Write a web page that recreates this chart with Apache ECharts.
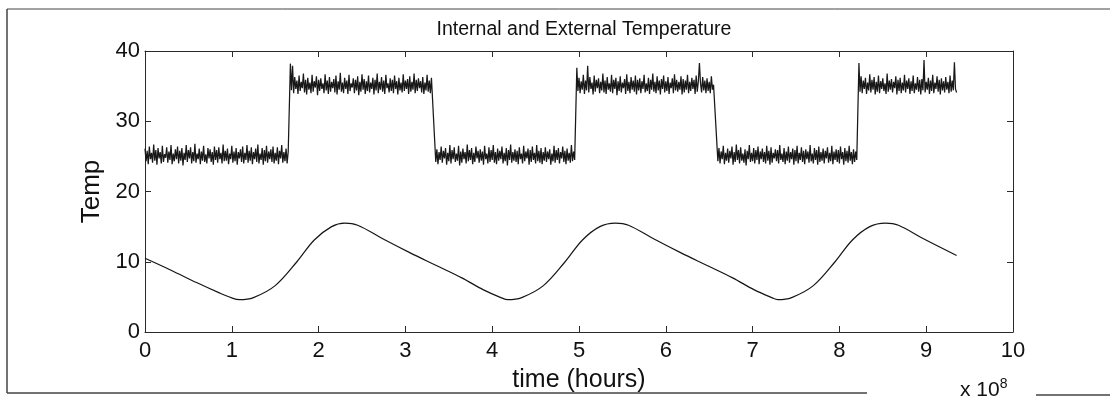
<!DOCTYPE html>
<html>
<head>
<meta charset="utf-8">
<script src="https://cdn.jsdelivr.net/npm/echarts@6/dist/echarts.min.js"></script>
<style>
html,body{margin:0;padding:0;background:#fff;}
#chart{width:1117px;height:400px;}
</style>
</head>
<body>
<div id="chart"></div>
<script>
// ---- data (time in units of 1e8 hours) ----
const xTicks = [0,1,2,3,4,5,6,7,8,9,10];
const yTicks = [0,10,20,30,40];

// external temperature: [time, value]
const extTime = [0,0.3,0.6,0.85,1.0,1.09,1.25,1.5,1.75,1.95,2.15,2.3,2.45,2.75,3.05,3.35,3.65,3.9,4.1,4.18,4.34,4.59,4.84,5.04,5.24,5.42,5.57,5.87,6.17,6.47,6.77,7.02,7.22,7.29,7.45,7.7,7.95,8.15,8.35,8.53,8.68,8.98,9.35];
const extTemp = [10.5,8.8,7.0,5.6,4.85,4.6,4.9,6.6,10.0,13.1,15.0,15.5,15.2,13.2,11.3,9.5,7.7,6.0,4.9,4.6,4.9,6.6,10.0,13.1,15.0,15.5,15.2,13.2,11.3,9.5,7.7,6.0,4.9,4.6,4.9,6.6,10.0,13.1,15.0,15.5,15.2,13.2,10.9];

// internal temperature: evenly sampled segments between start and end times
const intSegStart = [0, 1.675, 3.35, 4.975, 6.6, 8.225];
const intSegEnd   = [1.65, 3.3, 4.95, 6.55, 8.2, 9.35];
const intLow1 = [26.1,24.3,25.8,23.9,26.4,24.6,25.5,24.1,26.7,24.4,25.9,23.8,26.2,24.7,25.6,24.0,26.5,24.2,25.3,24.8,
26.3,24.1,25.7,24.5,26.6,23.9,25.4,24.3,26.0,24.6,26.4,24.0,25.8,24.4,26.2,23.7,25.5,24.5,26.6,24.2,
25.9,24.7,26.3,24.0,25.6,24.3,26.8,24.1,25.4,24.6,26.1,23.9,25.7,24.4,26.5,24.2,25.3,24.0,26.2,24.7,
26.0,24.2,25.6,23.8,26.4,24.5,25.9,24.1,26.3,24.6,25.5,24.0,26.7,24.3,25.8,24.4,26.1,23.9,25.4,24.6,
26.5,24.1,25.7,24.3,26.2,23.8,25.6,24.7,26.0,24.2,26.4,24.0,25.5,24.5,26.6,24.1,25.8,24.4,26.3,23.9,
25.6,24.6,26.1,24.2,26.7,24.0,25.4,24.5,26.2,23.8,25.9,24.3,26.5,24.1,25.7,24.6,26.0,24.2,26.4,24.0,
25.5,24.4,26.3,23.9,25.8,24.7,26.6,24.1,25.6,24.3,26.1,24.0,25.7];
const intHigh1 = [38.2,34.4,37.9,34.0,36.3,34.6,35.8,33.9,36.5,34.3,35.6,34.7,36.8,34.1,35.9,33.8,36.2,34.5,35.5,34.0,
36.6,34.2,35.7,34.8,36.4,33.7,35.9,34.3,36.1,34.6,35.4,34.0,36.7,34.4,35.8,33.9,36.3,34.2,35.6,34.7,
36.0,34.1,36.5,33.8,35.7,34.5,36.9,34.2,35.5,34.0,36.2,34.6,35.8,33.9,36.6,34.3,35.4,34.8,36.1,34.0,
35.9,34.4,36.4,33.7,35.6,34.2,36.7,34.5,36.0,33.9,35.7,34.3,36.5,34.1,35.5,34.6,36.2,33.8,35.9,34.4,
36.8,34.0,35.6,34.5,36.3,34.2,35.8,33.9,36.6,34.7,35.4,34.1,36.1,34.3,35.9,34.0,36.5,34.6,35.7,33.8,
36.2,34.4,35.5,34.1,36.7,34.3,35.8,34.6,36.0,33.9,36.4,34.2,35.6,34.5,36.8,34.0,35.9,34.3,36.1,34.7,
35.7,34.1,36.3,33.9,35.5,34.4,36.6,34.2,35.8,34.0,36.2];
const intLow2 = [24.2,26.0,23.9,25.6,24.5,26.4,24.1,25.8,24.7,26.2,23.8,25.5,24.3,26.6,24.0,25.9,24.6,26.3,24.2,25.4,
24.4,26.5,23.7,25.7,24.1,26.1,24.6,25.6,24.0,26.7,24.3,25.9,24.5,26.2,23.9,25.5,24.2,26.4,24.7,25.8,
24.1,26.0,24.4,25.7,23.8,26.5,24.6,25.4,24.0,26.3,24.2,25.9,24.5,26.6,24.1,25.6,23.9,26.1,24.4,25.8,
24.6,26.4,24.0,25.5,24.3,26.2,23.7,25.9,24.5,26.7,24.1,25.6,24.4,26.0,24.2,25.8,23.9,26.3,24.6,25.4,
24.0,26.5,24.3,25.7,24.7,26.1,23.8,25.9,24.2,26.4,24.5,25.5,24.0,26.6,24.3,25.8,24.1,26.2,23.9,25.6,
24.4,26.3,24.2,25.7,24.6,26.0,23.8,25.4,24.3,26.5,24.1,25.9,24.5,26.2,24.0,25.6,24.7,26.4,24.2,25.8,
23.9,26.1,24.4,25.5,24.1,26.6,24.3,25.7,24.5];
const intHigh2 = [37.6,34.3,36.2,34.0,35.7,34.5,36.6,33.9,35.8,34.4,37.9,34.1,36.3,34.6,35.5,33.8,36.5,34.2,35.9,34.7,
36.1,34.0,35.6,34.4,36.8,34.1,35.8,33.9,36.3,34.5,35.4,34.2,36.6,34.0,35.9,34.6,36.2,33.7,35.7,34.3,
36.4,34.1,35.5,34.7,36.0,33.9,36.7,34.3,35.6,34.0,36.3,34.5,35.8,34.2,36.5,33.8,35.9,34.4,36.1,34.0,
35.7,34.6,36.6,34.1,35.4,34.3,36.2,33.9,35.9,34.5,36.8,34.2,35.6,34.0,36.4,34.4,35.8,33.8,36.0,34.6,
36.5,34.1,35.7,34.3,36.3,33.9,35.5,34.7,36.1,34.0,36.7,34.4,35.9,34.2,35.6,34.5,36.4,33.8,36.0,34.1,
35.8,34.5,36.6,34.0,35.6,34.3,36.2,34.6,35.9,33.9,36.5,34.2,35.7,38.3,35.4,34.1,36.3,34.4,35.8,34.0,
36.1,34.3,35.6,34.0,36.4,34.5,35.2];
const intLow3 = [24.3,26.2,24.0,25.7,24.6,26.5,23.9,25.5,24.4,26.1,24.1,25.8,24.7,26.4,23.8,25.6,24.2,26.7,24.5,25.9,
24.0,26.3,24.4,25.4,24.1,26.0,23.7,25.8,24.6,26.6,24.2,25.5,24.3,26.2,24.0,25.9,24.5,26.4,23.9,25.7,
24.6,26.1,24.2,25.6,24.0,26.5,24.4,25.8,23.8,26.3,24.1,25.5,24.7,26.0,24.3,25.9,24.0,26.6,24.5,25.4,
24.2,26.2,23.9,25.7,24.4,26.4,24.1,25.6,24.6,26.1,23.8,25.9,24.3,26.5,24.0,25.5,24.5,26.3,24.2,25.8,
23.9,26.0,24.6,25.7,24.1,26.6,24.3,25.4,24.0,26.2,24.5,25.9,23.8,26.4,24.2,25.6,24.4,26.1,24.0,25.8,
24.7,26.3,24.1,25.5,24.3,26.5,23.9,25.7,24.5,26.0,24.2,25.9,24.0,26.4,24.6,25.6,23.8,26.2,24.3,25.8,
24.1,26.5,24.4,25.6,23.9,26.0,24.2,25.7,24.5];
const intHigh3 = [38.3,34.2,36.4,34.0,35.8,34.6,36.2,33.9,35.5,34.4,36.7,34.1,35.9,34.5,36.3,33.8,35.6,34.2,36.5,34.0,
35.7,34.6,36.1,34.3,35.4,33.9,36.8,34.2,35.8,34.5,36.0,34.1,35.6,34.7,36.4,33.8,35.9,34.3,36.2,34.0,
35.5,34.4,36.6,34.1,35.8,34.6,36.1,33.9,35.7,34.3,36.5,34.0,35.4,34.5,36.3,34.2,35.9,33.8,36.0,34.4,
38.7,34.1,35.6,34.5,36.2,33.9,35.8,34.3,36.6,34.0,35.5,34.6,36.4,34.2,35.9,33.8,36.1,34.4,35.7,34.1,
36.3,34.5,35.6,34.0,36.5,34.2,35.8,34.4,38.4,34.6,34.1];
const intSegments = [intLow1, intHigh1, intLow2, intHigh2, intLow3, intHigh3];

// ---- build series data ----
const extData = extTime.map((t, i) => [t, extTemp[i]]);
const intData = [];
intSegments.forEach((seg, s) => {
  const dt = (intSegEnd[s] - intSegStart[s]) / (seg.length - 1);
  seg.forEach((v, i) => intData.push([intSegStart[s] + i * dt, v]));
});

const FONT = 'Liberation Sans, Arial, Helvetica, sans-serif';
const axisColor = '#2a2a2a';
const chart = echarts.init(document.getElementById('chart'), null, {renderer: 'canvas'});

const gridL = 145, gridT = 51, gridW = 868, gridH = 281;

function xAx(pos, showLabel) {
  return {
    type: 'value', min: 0, max: 10, interval: 1, position: pos,
    axisLine: {show: true, onZero: false, lineStyle: {color: axisColor, width: 1}},
    axisTick: {show: true, inside: true, length: 6, lineStyle: {color: axisColor}},
    axisLabel: {show: showLabel, fontSize: 22, color: '#111', fontFamily: FONT, margin: 8},
    splitLine: {show: false},
    name: showLabel ? 'time (hours)' : '',
    nameLocation: 'middle', nameGap: 36,
    nameTextStyle: {fontSize: 25, color: '#111', fontFamily: FONT}
  };
}
function yAx(pos, showLabel) {
  return {
    type: 'value', min: 0, max: 40, interval: 10, position: pos,
    axisLine: {show: true, onZero: false, lineStyle: {color: axisColor, width: 1}},
    axisTick: {show: true, inside: true, length: 6, lineStyle: {color: axisColor}},
    axisLabel: {show: showLabel, fontSize: 22, color: '#111', fontFamily: FONT, margin: 5},
    splitLine: {show: false},
    name: showLabel ? 'Temp' : '',
    nameLocation: 'middle', nameGap: 39, nameRotate: 90,
    nameTextStyle: {fontSize: 26, color: '#111', fontFamily: FONT}
  };
}

chart.setOption({
  animation: false,
  backgroundColor: '#fff',
  title: {
    text: 'Internal and External Temperature',
    left: gridL + gridW / 2, top: 15, textAlign: 'center',
    textStyle: {fontSize: 19.5, fontWeight: 'normal', color: '#111', fontFamily: FONT}
  },
  grid: {left: gridL, top: gridT, width: gridW, height: gridH, show: false},
  xAxis: [xAx('bottom', true), xAx('top', false)],
  yAxis: [yAx('left', true), yAx('right', false)],
  series: [
    {
      type: 'line', data: intData, xAxisIndex: 0, yAxisIndex: 0,
      showSymbol: false, symbol: 'none', sampling: null,
      lineStyle: {color: '#181818', width: 1.25}
    },
    {
      type: 'line', data: extData, xAxisIndex: 0, yAxisIndex: 0,
      showSymbol: false, symbol: 'none', smooth: 0.35,
      lineStyle: {color: '#151515', width: 1.2}
    }
  ],
  graphic: [
    {type: 'line', shape: {x1: 7, y1: 9, x2: 1110, y2: 9}, style: {stroke: '#444', lineWidth: 1}},
    {type: 'line', shape: {x1: 7, y1: 9, x2: 7, y2: 393}, style: {stroke: '#444', lineWidth: 1.5}},
    {type: 'line', shape: {x1: 7, y1: 393, x2: 867, y2: 393}, style: {stroke: '#444', lineWidth: 1.5}},
    {type: 'line', shape: {x1: 1036, y1: 395, x2: 1110, y2: 395}, style: {stroke: '#444', lineWidth: 1.5}},
    {
      type: 'text', left: 960, top: 377,
      style: {
        text: 'x 10{s|8}',
        font: '21px ' + FONT, fill: '#111',
        rich: {s: {fontSize: 14, verticalAlign: 'top', padding: [0, 0, 12, 0], fill: '#111'}}
      }
    }
  ]
});
</script>
</body>
</html>
